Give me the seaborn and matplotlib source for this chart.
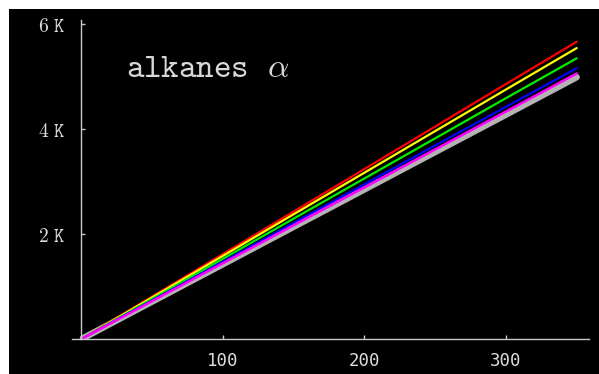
import matplotlib
matplotlib.use("Agg")
import matplotlib.pyplot as plt
import matplotlib.patches as mpatches
import seaborn as sns
import pandas as pd

x_vals = [1, 50, 100, 150, 200, 250, 300, 350]
red = [16, 810, 1620, 2430, 3240, 4050, 4860, 5665]
yellow = [16, 793, 1585, 2378, 3170, 3963, 4755, 5545]
green = [15, 765, 1530, 2295, 3060, 3825, 4590, 5350]
blue = [15, 738, 1475, 2213, 2950, 3688, 4425, 5160]
magenta = [14, 723, 1445, 2168, 2890, 3613, 4335, 5060]
gray = [14, 713, 1425, 2138, 2850, 3563, 4275, 4990]

x_ticks = [100, 200, 300]
y_ticks = [2000, 4000, 6000]
y_tick_labels = ["2 K", "4 K", "6 K"]
title_word = "alkanes"

sns.set_theme(style="ticks")
plt.rcParams["mathtext.fontset"] = "cm"

W, H = 599, 374
fig = plt.figure(figsize=(W / 100, H / 100), dpi=100)
fig.patch.set_facecolor("white")
bg = mpatches.Rectangle((9 / W, 0), 1 - 9 / W, 1 - 9 / H,
                        transform=fig.transFigure,
                        facecolor="black", edgecolor="none", zorder=-10)
fig.patches.append(bg)

ax = fig.add_axes([72 / W, 35 / H, (589 - 72) / W, (339 - 20) / H])
ax.set_facecolor("none")
ax.set_zorder(5)

series = [("gray", gray, "#b4b4b4", 4.6),
          ("red", red, "#ff0000", 1.6),
          ("yellow", yellow, "#ffff00", 1.6),
          ("green", green, "#00ee00", 1.6),
          ("blue", blue, "#0000ff", 1.6),
          ("magenta", magenta, "#ff00ff", 1.8)]
for name, ys, col, lw in series:
    df = pd.DataFrame({"x": x_vals, "y": ys})
    sns.lineplot(data=df, x="x", y="y", ax=ax, color=col, linewidth=lw)
    ax.lines[-1].set_solid_capstyle("round")

ax.set_xlim(-6.7, 358.7)
ax.set_ylim(0, 6080)
ax.set_xlabel("")
ax.set_ylabel("")
for s in ["top", "right"]:
    ax.spines[s].set_visible(False)
ax.spines["left"].set_position(("data", 0))
for s in ["left", "bottom"]:
    ax.spines[s].set_color("#c8c8c8")
    ax.spines[s].set_linewidth(1.0)

ax.set_xticks(x_ticks)
ax.set_xticklabels([str(v) for v in x_ticks], family="DejaVu Sans Mono",
                   fontsize=12.5, color="#dcdcdc")
ax.set_yticks(y_ticks)
ax.set_yticklabels([r"$\mathtt{" + t.replace(" ", r"\ ") + "}$" for t in y_tick_labels],
                   fontsize=14, color="#dcdcdc")
ax.tick_params(axis="both", direction="in", length=3, width=1, colors="#c8c8c8",
               labelcolor="#dcdcdc")
ax.tick_params(axis="x", pad=9)
ax.tick_params(axis="y", pad=12)

fig.text(126 / W, 1 - 77 / H, r"$\mathtt{" + title_word + r"}\ \ \alpha$",
         fontsize=24, color="#d8d8d8", va="baseline", ha="left")

fig.savefig("out.png", dpi=100, facecolor=fig.get_facecolor())
